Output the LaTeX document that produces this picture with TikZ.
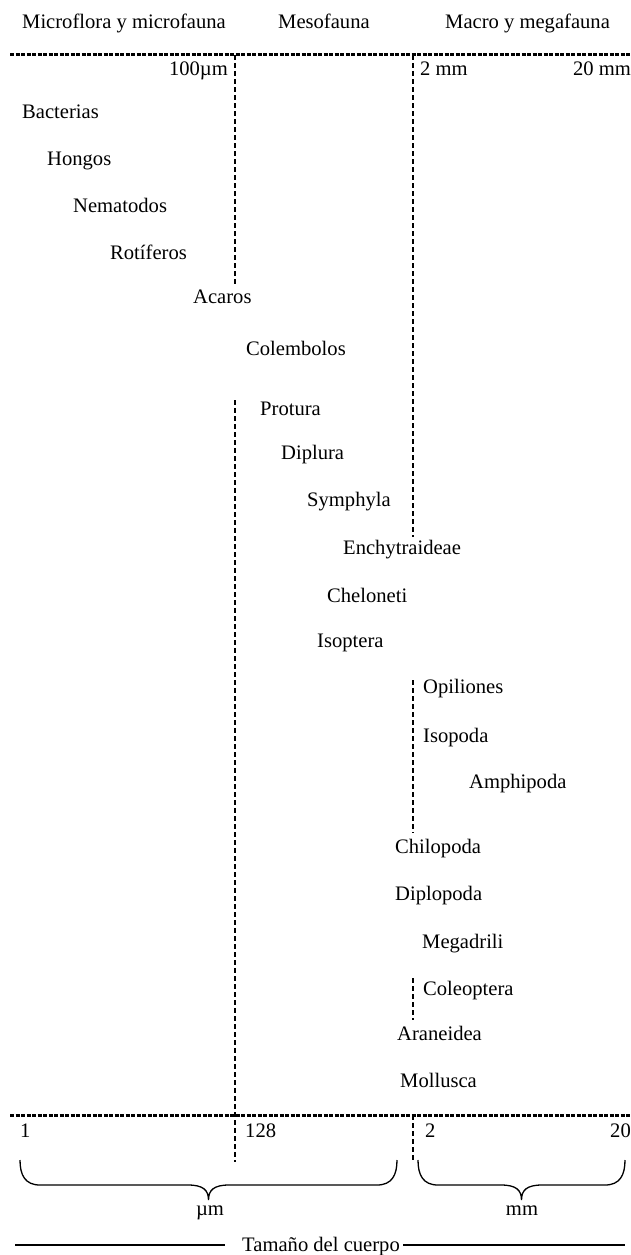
\documentclass[tikz,border=0pt]{standalone}
\usepackage{fontspec}
\setmainfont{Liberation Serif}
\begin{document}
\begin{tikzpicture}[x=1pt,y=-1pt,
  every node/.style={inner sep=0pt, font=\fontsize{20.6}{24}\selectfont},
  lbl/.style={anchor=base west},
  lblr/.style={anchor=base east},
  lblc/.style={anchor=base},
  hrule/.style={line width=3pt, dash pattern=on 4pt off 1.5pt},
  vrule/.style={line width=2.5pt, dash pattern=on 5pt off 3pt},
  brc/.style={line width=1.3pt},
  sline/.style={line width=1.2pt}]
\useasboundingbox (0,0) rectangle (631,1255);

% headers
\node[lbl] (h1) at (22,29) {Microflora y microfauna};
\node[lbl] (h2) at (278,29) {Mesofauna};
\node[lbl] (h3) at (445,29) {Macro y megafauna};

% horizontal scales
\coordinate (tl) at (10,55); \coordinate (tr) at (631,55);
\coordinate (bl) at (10,1115); \coordinate (br) at (631,1115);
\draw[hrule] (tl) -- (tr);
\draw[hrule] (bl) -- (br);

% vertical dashed lines
\coordinate (a1) at (235,55);  \coordinate (a2) at (235,285);
\coordinate (a3) at (235,400); \coordinate (a4) at (235,1162);
\coordinate (b1) at (413,55);  \coordinate (b2) at (413,537);
\coordinate (b3) at (413,680); \coordinate (b4) at (413,833);
\coordinate (b5) at (413,978); \coordinate (b6) at (413,1020);
\coordinate (b7) at (413,1115); \coordinate (b8) at (413,1162);
\draw[vrule] (a1) -- (a2);
\draw[vrule] (a3) -- (a4);
\draw[vrule] (b1) -- (b2);
\draw[vrule] (b3) -- (b4);
\draw[vrule] (b5) -- (b6);
\draw[vrule] (b7) -- (b8);

% top labels
\node[lblr] (t1) at (228,75) {100µm};
\node[lbl]  (t2) at (420,75) {2 mm};
\node[lblr] (t3) at (631,75) {20 mm};

% taxa
\node[lbl] (n1)  at (22,118)  {Bacterias};
\node[lbl] (n2)  at (47,165)  {Hongos};
\node[lbl] (n3)  at (73,212)  {Nematodos};
\node[lbl] (n4)  at (110,259) {Rotíferos};
\node[lbl] (n5)  at (193,303) {Acaros};
\node[lbl] (n6)  at (246,355) {Colembolos};
\node[lbl] (n7)  at (260,415) {Protura};
\node[lbl] (n8)  at (281,459) {Diplura};
\node[lbl] (n9)  at (307,506) {Symphyla};
\node[lbl] (n10) at (343,554) {Enchytraideae};
\node[lbl] (n11) at (327,602) {Cheloneti};
\node[lbl] (n12) at (317,647) {Isoptera};
\node[lbl] (n13) at (423,693) {Opiliones};
\node[lbl] (n14) at (423,742) {Isopoda};
\node[lbl] (n15) at (469,788) {Amphipoda};
\node[lbl] (n16) at (395,853) {Chilopoda};
\node[lbl] (n17) at (395,900) {Diplopoda};
\node[lbl] (n18) at (422,948) {Megadrili};
\node[lbl] (n19) at (423,995) {Coleoptera};
\node[lbl] (n20) at (397,1040) {Araneidea};
\node[lbl] (n21) at (400,1087) {Mollusca};

% bottom labels
\node[lbl]  (u1) at (20,1137)  {1};
\node[lbl]  (u2) at (245,1137) {128};
\node[lbl]  (u3) at (425,1137) {2};
\node[lblr] (u4) at (631,1137) {20};

% braces
\draw[brc] (20,1160) .. controls (20,1175) and (25,1185) .. (40,1185) -- (188,1185)
  .. controls (203,1185) and (208.5,1190) .. (208.5,1200)
  .. controls (208.5,1190) and (214,1185) .. (229,1185) -- (377,1185)
  .. controls (392,1185) and (397,1175) .. (397,1160);
\draw[brc] (418,1160) .. controls (418,1175) and (423,1185) .. (438,1185) -- (501,1185)
  .. controls (516,1185) and (521.5,1190) .. (521.5,1200)
  .. controls (521.5,1190) and (527,1185) .. (542,1185) -- (605,1185)
  .. controls (620,1185) and (625,1175) .. (625,1160);

\node[lblc] (um) at (210,1215) {µm};
\node[lblc] (mm) at (522,1215) {mm};

% body size
\node[lblc] (tc) at (321,1251) {Tamaño del cuerpo};
\coordinate (l1) at (15,1245); \coordinate (l2) at (225,1245);
\coordinate (r1) at (403,1245); \coordinate (r2) at (625,1245);
\draw[sline] (l1) -- (l2);
\draw[sline] (r1) -- (r2);
\end{tikzpicture}
\end{document}
